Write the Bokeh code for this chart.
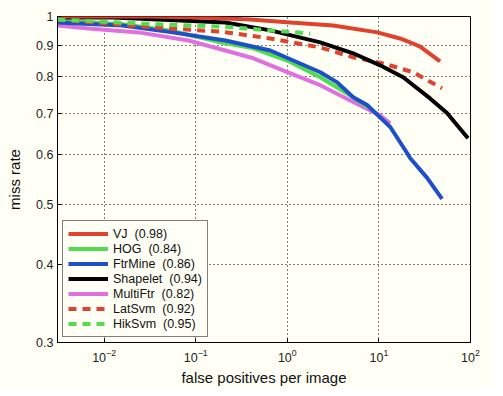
from bokeh.plotting import figure
from bokeh.models import Range1d, FixedTicker, Legend, LegendItem, LogTickFormatter
from bokeh.embed import file_html
from bokeh.resources import INLINE

# ---- data (false positives per image vs miss rate) ----
vj_x = [0.0031, 0.032, 0.113, 0.395, 1.08, 3.17, 9.6, 17.0, 23.6, 28.2, 46.5]
vj_y = [1.0, 1.0, 0.996, 0.989, 0.978, 0.967, 0.943, 0.922, 0.905, 0.895, 0.847]

hog_x = [0.0031, 0.0159, 0.0558, 0.186, 0.426, 1.0, 2.29, 5.24, 7.64]
hog_y = [0.985, 0.972, 0.948, 0.909, 0.889, 0.85, 0.799, 0.742, 0.715]

ftr_x = [0.0031, 0.0159, 0.0558, 0.211, 0.653, 2.29, 3.51, 5.24, 7.44, 10.3, 13.3, 20.3, 21.9, 33.6, 48.9]
ftr_y = [0.978, 0.967, 0.943, 0.915, 0.882, 0.814, 0.784, 0.742, 0.721, 0.689, 0.665, 0.604, 0.593, 0.551, 0.510]

shp_x = [0.0031, 0.0124, 0.211, 0.653, 2.29, 5.24, 10.3, 18.4, 36.2, 55.4, 93.9]
shp_y = [0.996, 0.996, 0.978, 0.950, 0.909, 0.873, 0.835, 0.799, 0.739, 0.700, 0.638]

mul_x = [0.0031, 0.00678, 0.0238, 0.0834, 0.211, 0.426, 1.0, 2.29, 5.24, 8.03, 10.3, 13.3]
mul_y = [0.967, 0.957, 0.943, 0.915, 0.882, 0.857, 0.814, 0.776, 0.729, 0.707, 0.694, 0.674]

lat_x = [0.0031, 0.0364, 0.196, 0.653, 2.29, 5.24, 11.1, 23.6, 48.9]
lat_y = [0.989, 0.960, 0.945, 0.922, 0.892, 0.860, 0.841, 0.814, 0.767]

hik_x = [0.0031, 0.0238, 0.196, 0.653, 1.78]
hik_y = [0.989, 0.9745, 0.963, 0.950, 0.939]

names = ["VJ\u00a0\u00a0(0.98)", "HOG\u00a0\u00a0(0.84)", "FtrMine\u00a0\u00a0(0.86)",
         "Shapelet\u00a0\u00a0(0.94)", "MultiFtr\u00a0\u00a0(0.82)", "LatSvm\u00a0\u00a0(0.92)",
         "HikSvm\u00a0\u00a0(0.95)"]

x_ticks = [0.01, 0.1, 1, 10, 100]
y_ticks = [0.3, 0.4, 0.5, 0.6, 0.7, 0.8, 0.9, 1.0]
y_labels = ["0.3", "0.4", "0.5", "0.6", "0.7", "0.8", "0.9", "1"]

FONT = "Liberation Sans"
BG = "#fffff6"

p = figure(width=495, height=388, x_axis_type="log", y_axis_type="log",
           x_range=Range1d(0.0031, 100), y_range=Range1d(0.3, 1.0),
           output_backend="svg", toolbar_location=None,
           min_border_left=57, min_border_right=25, min_border_top=16, min_border_bottom=45,
           background_fill_color=BG, border_fill_color=BG)

p.outline_line_color = "black"
p.outline_line_width = 1

p.xaxis.ticker = FixedTicker(ticks=x_ticks)
p.xaxis.formatter = LogTickFormatter()
p.yaxis.ticker = FixedTicker(ticks=y_ticks)
p.yaxis.major_label_overrides = {t: l for t, l in zip(y_ticks, y_labels)}
for ax in (p.xaxis[0], p.yaxis[0]):
    ax.major_tick_in = 4
    ax.major_tick_out = 0
    ax.minor_tick_in = 0
    ax.minor_tick_out = 0
    ax.axis_line_color = "black"
    ax.major_tick_line_color = "black"
    ax.major_label_text_font = FONT
    ax.major_label_text_font_size = "12.5px"
    ax.major_label_text_color = "#222222"
    ax.axis_label_text_font = FONT
    ax.axis_label_text_font_size = "15px"
    ax.axis_label_text_font_style = "normal"
    ax.axis_label_text_color = "#111111"
p.xaxis.axis_label = "false positives per image"
p.yaxis.axis_label = "miss rate"
p.xaxis.major_label_standoff = 6
p.yaxis.major_label_standoff = 4
p.xaxis.axis_label_standoff = 4
p.yaxis.axis_label_standoff = 10

for g in (p.xgrid[0], p.ygrid[0]):
    g.grid_line_color = "black"
    g.grid_line_dash = "1 3"
    g.grid_line_width = 1
p.xgrid.ticker = FixedTicker(ticks=x_ticks)
p.ygrid.ticker = FixedTicker(ticks=y_ticks)

RED = "#e0422e"
GREEN = "#4fdc4f"
BLUE = "#1d4fc8"
MAG = "#e070e0"

series = [
    (vj_x, vj_y, RED, "solid"),
    (hog_x, hog_y, GREEN, "solid"),
    (ftr_x, ftr_y, BLUE, "solid"),
    (shp_x, shp_y, "black", "solid"),
    (mul_x, mul_y, MAG, "solid"),
    (lat_x, lat_y, RED, "8 6"),
    (hik_x, hik_y, GREEN, "8 6"),
]

order = [4, 1, 2, 5, 3, 0, 6]  # drawing order
rmap = {}
for i in order:
    xs, ys, c, d = series[i]
    r = p.line(xs, ys, line_color=c, line_width=4, line_dash=d, line_join="round")
    rmap[i] = r

items = [LegendItem(label=names[i], renderers=[rmap[i]]) for i in range(len(series))]
legend = Legend(items=items, location="bottom_left",
                label_text_font=FONT, label_text_font_size="12.5px",
                label_text_color="#111111",
                glyph_width=40, glyph_height=15, label_height=15,
                spacing=0, padding=5, margin=5, label_standoff=5,
                border_line_color="black", border_line_width=1,
                background_fill_color=BG, background_fill_alpha=1.0)
p.add_layout(legend)

open("out.html", "w").write(file_html(p, INLINE))
